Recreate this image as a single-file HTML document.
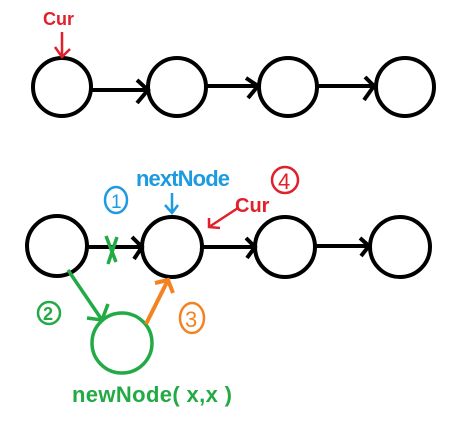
<!DOCTYPE html><html><head><style>body{margin:0;background:#fff}</style></head><body>
<svg width="453" height="429" viewBox="0 0 453 429" xmlns="http://www.w3.org/2000/svg" font-family="Liberation Sans Narrow, Liberation Sans, sans-serif">
<g fill="none" stroke="#000" stroke-width="4">
<circle cx="62" cy="87" r="29"/><circle cx="177" cy="87" r="29"/><circle cx="288" cy="87" r="29"/><circle cx="405" cy="87" r="29"/>
<path d="M91 90 H148 M137 80 L148 90 L137 103"/>
<path d="M206 86 H258 M246 78 L258 86 L248 98"/>
<path d="M318 86 H374 M365 77 L374 86 L364 100"/>
<circle cx="57" cy="246" r="30"/><circle cx="172" cy="247" r="30"/><circle cx="285" cy="247" r="30"/><circle cx="400" cy="247" r="30"/>
<path d="M87 247 H142 M132 237 L142 247 L134 259"/>
<path d="M203 247 H255 M246 238 L255 247 L247 258"/>
<path d="M316 246 H369 M360 238 L369 246 L361 256"/>
</g>
<g fill="none" stroke="#e0202a" stroke-width="2.5">
<path d="M62 32 V57 M55 47 L62 57 L70 49"/>
<path d="M238 208 L209 227 M209 218 L209 227 L220 228"/>
<circle cx="285" cy="180" r="13"/>
</g>
<text x="43" y="25" fill="#e0202a" font-size="18" font-weight="bold">Cur</text>
<text x="235" y="212" fill="#e0202a" font-size="20" font-weight="bold">Cur</text>
<text x="278" y="189" fill="#e0202a" font-size="22">4</text>
<g fill="none" stroke="#1e9be0" stroke-width="2.5">
<path d="M172 193 V213 M165 205 L172 213 L178 205"/>
<ellipse cx="116" cy="200" rx="11" ry="13"/>
</g>
<text x="136" y="186" fill="#1e9be0" font-size="22" font-weight="bold" textLength="94">nextNode</text>
<text x="111" y="208" fill="#1e9be0" font-size="19">1</text>
<g fill="none" stroke="#22aa44" stroke-width="3.5">
<circle cx="122" cy="343" r="30"/>
<path d="M68 270 L102 320 M87 318 L102 320 L108 304"/>
<path d="M106 236 L116 262 M117 237 L108 264"/>
<circle cx="49" cy="313" r="11" stroke-width="2.5"/>
</g>
<text x="43" y="320" fill="#22aa44" font-size="18" font-weight="bold">2</text>
<text x="72" y="402" fill="#22aa44" font-size="22" font-weight="bold" textLength="160">newNode( x,x )</text>
<g fill="none" stroke="#f58220" stroke-width="4">
<path d="M146 324 L168 280 M155 283 L168 280 L173 293"/>
<ellipse cx="192" cy="318" rx="12" ry="15" stroke-width="2.5"/>
</g>
<text x="185" y="327" fill="#f58220" font-size="22">3</text>
</svg>
</body></html>
